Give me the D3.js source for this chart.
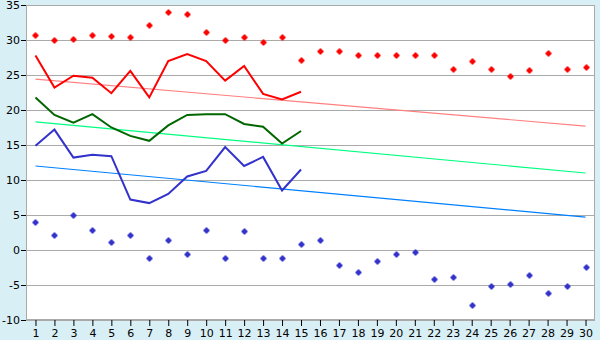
<!DOCTYPE html>
<html>
<head>
<meta charset="utf-8">
<script src="https://cdn.jsdelivr.net/npm/d3@7"></script>
<style>
  body { margin: 0; background: #d9eff6; }
  svg { display: block; }
  text { font-family: "DejaVu Sans", Verdana, sans-serif; font-size: 11px; fill: #000; }
</style>
</head>
<body>
<script>
// days of month
var days = d3.range(1, 31);
var yTicks = [-10, -5, 0, 5, 10, 15, 20, 25, 30, 35];

// record highs / lows (markers)
var recordHigh = [30.7, 30.0, 30.1, 30.7, 30.6, 30.4, 32.1, 34.0, 33.7, 31.1,
                  30.0, 30.4, 29.7, 30.4, 27.2, 28.4, 28.4, 27.9, 27.8, 27.8,
                  27.8, 27.8, 25.8, 27.0, 25.9, 24.9, 25.7, 28.1, 25.8, 26.2];
var recordLow = [4.0, 2.2, 5.0, 2.8, 1.1, 2.2, -1.1, 1.4, -0.5, 2.8,
                 -1.1, 2.7, -1.1, -1.1, 0.9, 1.4, -2.1, -3.1, -1.5, -0.6,
                 -0.3, -4.1, -3.9, -7.8, -5.1, -4.9, -3.5, -6.1, -5.1, -2.4];

// this month's observed max / mean / min (first 15 days)
var obsMax = [27.8, 23.2, 24.9, 24.6, 22.4, 25.6, 21.8, 27.0, 28.0, 27.0,
              24.2, 26.3, 22.3, 21.5, 22.6];
var obsMean = [21.8, 19.3, 18.2, 19.4, 17.5, 16.3, 15.6, 17.8, 19.3, 19.4,
               19.4, 18.0, 17.6, 15.2, 17.0];
var obsMin = [14.9, 17.2, 13.2, 13.6, 13.4, 7.2, 6.7, 8.0, 10.5, 11.3,
              14.7, 12.0, 13.3, 8.5, 11.5];

// normals (start and end of month)
var normMax = [24.4, 17.7];
var normMean = [18.3, 11.0];
var normMin = [12.0, 4.7];

var W = 600, H = 340;
var margin = {left: 26, right: 5, top: 5, bottom: 20};
var width = W - margin.left - margin.right,
    height = H - margin.top - margin.bottom;

var svg = d3.select("body").append("svg")
    .attr("width", W)
    .attr("height", H);

var x = d3.scalePoint()
    .domain(days)
    .range([0, width])
    .padding(0.5);

var y = d3.scaleLinear()
    .domain([-10, 35])
    .range([height, 0]);

var g = svg.append("g")
    .attr("transform", "translate(" + margin.left + "," + margin.top + ")");

g.append("rect")
    .attr("width", width)
    .attr("height", height)
    .attr("fill", "#fff");

// gridlines
g.selectAll(".grid")
    .data(yTicks)
    .enter().append("line")
    .attr("x1", 0).attr("x2", width)
    .attr("y1", function(d) { return Math.round(y(d)) + 0.5; })
    .attr("y2", function(d) { return Math.round(y(d)) + 0.5; })
    .attr("stroke", "#aaa");

// frame
g.append("rect")
    .attr("x", 0.5).attr("y", 0.5)
    .attr("width", width - 1).attr("height", height - 1)
    .attr("fill", "none")
    .attr("stroke", "#aaa");

// normal trend lines
function trend(vals, color) {
    g.append("line")
        .attr("x1", x(days[0])).attr("x2", x(days[days.length - 1]))
        .attr("y1", y(vals[0])).attr("y2", y(vals[1]))
        .attr("stroke", color)
        .attr("stroke-width", 1.2);
}
trend(normMax, "#ff8080");
trend(normMean, "#00ff80");
trend(normMin, "#0080ff");

// observed lines
var line = d3.line()
    .x(function(d, i) { return x(days[i]); })
    .y(function(d) { return y(d); });

function obs(vals, color) {
    g.append("path")
        .datum(vals)
        .attr("d", line)
        .attr("fill", "none")
        .attr("stroke", color)
        .attr("stroke-width", 2);
}
obs(obsMax, "#ff0000");
obs(obsMean, "#006600");
obs(obsMin, "#3333cc");

// record markers, small pixel diamond
var marker = "M-1,-3h2v1h1v1h1v2h-1v1h-1v1h-2v-1h-1v-1h-1v-2h1v-1h1z";
function marks(vals, color) {
    g.selectAll(null)
        .data(vals)
        .enter().append("path")
        .attr("d", marker)
        .attr("transform", function(d, i) {
            return "translate(" + (Math.round(x(days[i])) + 0.5) + "," + (Math.round(y(d)) + 0.5) + ")";
        })
        .attr("fill", color);
}
marks(recordHigh, "#ff0000");
marks(recordLow, "#3333cc");

// axes
var yAxis = g.append("g")
    .call(d3.axisLeft(y).tickValues(yTicks).tickSize(5).tickPadding(1)
        .tickFormat(function(d) { return String(d); }));
yAxis.select(".domain").remove();
yAxis.selectAll("line").attr("stroke", "#000");
yAxis.selectAll("text").style("font-size", "11px").attr("fill", "#000");

g.append("line")
    .attr("x1", 0.5).attr("x2", 0.5)
    .attr("y1", 0).attr("y2", height)
    .attr("stroke", "#aaa");

var xAxis = g.append("g")
    .attr("transform", "translate(0," + height + ")")
    .call(d3.axisBottom(x).tickSize(6).tickPadding(3));
xAxis.select(".domain").remove();
xAxis.selectAll("line").attr("stroke", "#000");
xAxis.selectAll("text").style("font-size", "11px").attr("fill", "#000");
</script>
</body>
</html>
